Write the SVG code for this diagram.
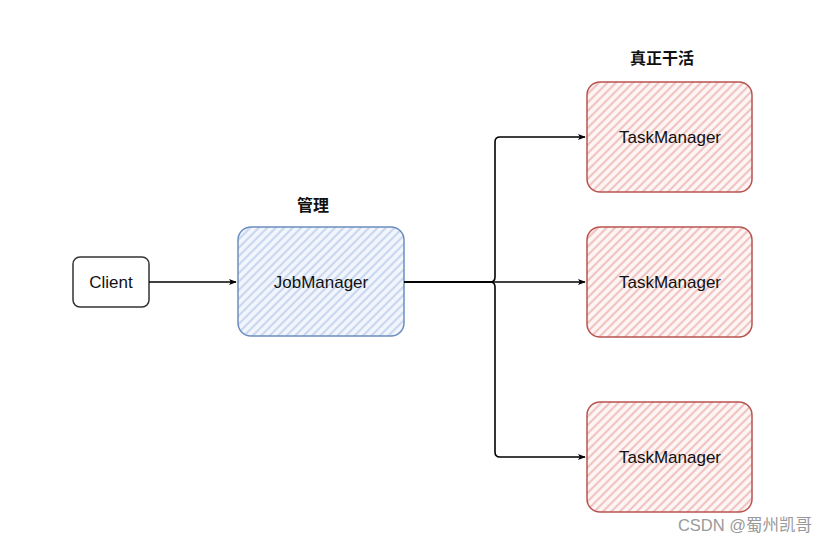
<svg xmlns="http://www.w3.org/2000/svg" width="828" height="544" viewBox="0 0 828 544">
<defs>
<pattern id="hb" patternUnits="userSpaceOnUse" width="6" height="6" patternTransform="rotate(45)">
<rect width="6" height="6" fill="#f3f6fc"/>
<line x1="2" y1="0" x2="2" y2="6" stroke="#c9d8f0" stroke-width="2.2"/>
</pattern>
<pattern id="hr" patternUnits="userSpaceOnUse" width="6" height="6" patternTransform="rotate(45)">
<rect width="6" height="6" fill="#fdf6f6"/>
<line x1="2" y1="0" x2="2" y2="6" stroke="#f1c3c1" stroke-width="2.2"/>
</pattern>
<marker id="arr" viewBox="0 0 10 10" refX="9" refY="5" markerWidth="8" markerHeight="8" markerUnits="userSpaceOnUse" orient="auto">
<path d="M0,1 L10,5 L0,9 L2.5,5 Z" fill="#000"/>
</marker>
</defs>
<style>
.t{font-family:"Liberation Sans",Arial,sans-serif;font-size:17px;fill:#111;text-anchor:middle;dominant-baseline:central}
.c{font-family:"Noto Sans CJK SC",sans-serif;font-size:16px;fill:#111;text-anchor:middle;dominant-baseline:central;font-weight:600}
.tm rect{fill:url(#hr);stroke:#b85450;stroke-width:1.5}
.e{fill:none;stroke:#000;stroke-width:1.6}
</style>
<rect width="828" height="544" fill="#fff"/>
<g id="client">
<rect x="73" y="257" width="76" height="50" rx="7" fill="#fff" stroke="#333" stroke-width="1.5"/>
<text class="t" x="111" y="282">Client</text>
</g>
<g id="jobmanager">
<rect x="238" y="227" width="166" height="109" rx="13" fill="url(#hb)" stroke="#6c8ebf" stroke-width="1.5"/>
<text class="t" x="321" y="282">JobManager</text>
</g>
<g id="tm1" class="tm">
<rect x="587" y="82" width="165" height="110" rx="13"/>
<text class="t" x="670" y="137">TaskManager</text>
</g>
<g id="tm2" class="tm">
<rect x="587" y="227" width="165" height="110" rx="13"/>
<text class="t" x="670" y="282">TaskManager</text>
</g>
<g id="tm3" class="tm">
<rect x="587" y="402" width="165" height="110" rx="13"/>
<text class="t" x="670" y="457">TaskManager</text>
</g>
<g id="labels">
<text class="c" x="313" y="204">管理</text>
<text class="c" x="662" y="57">真正干活</text>
<text x="745" y="525" font-family="'Liberation Sans','Noto Sans CJK SC',sans-serif" font-size="16.5" fill="#999" text-anchor="middle" dominant-baseline="central">CSDN @蜀州凯哥</text>
</g>
<g id="connectors">
<path class="e" d="M149,282 L236,282" marker-end="url(#arr)"/>
<path class="e" d="M404,282 L585,282" marker-end="url(#arr)"/>
<path class="e" d="M404,282 L490,282 Q495,282 495,277 L495,142 Q495,137 500,137 L585,137" marker-end="url(#arr)"/>
<path class="e" d="M404,282 L490,282 Q495,282 495,287 L495,452 Q495,457 500,457 L585,457" marker-end="url(#arr)"/>
</g>
</svg>
